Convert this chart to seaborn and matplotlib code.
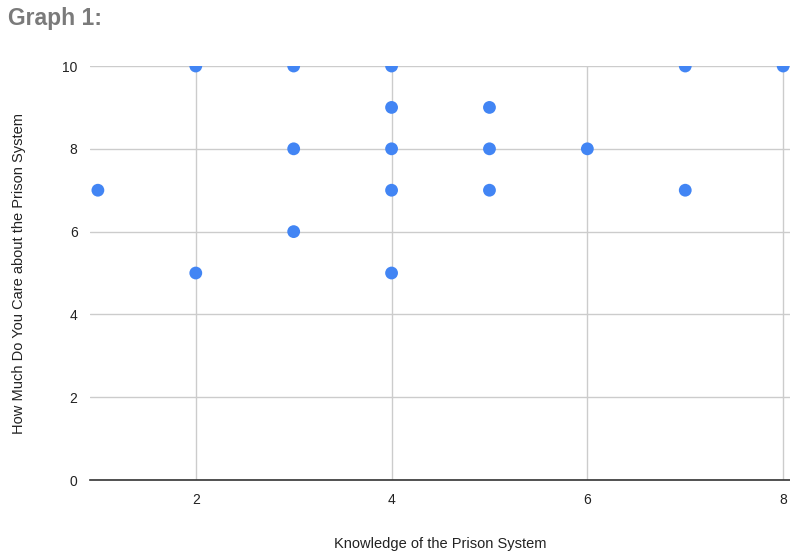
import numpy as np
import pandas as pd
import matplotlib
matplotlib.use("Agg")
import matplotlib.pyplot as plt
import seaborn as sns

# Dados
knowledge = [1, 2, 2, 3, 3, 3, 4, 4, 4, 4, 4, 5, 5, 5, 6, 7, 7, 8]
care = [7, 10, 5, 10, 8, 6, 10, 9, 8, 7, 5, 9, 8, 7, 8, 10, 7, 10]
x_ticks = [2, 4, 6, 8]
y_ticks = [0, 2, 4, 6, 8, 10]

df = pd.DataFrame({"Knowledge of the Prison System": knowledge,
                   "How Much Do You Care about the Prison System": care})

sns.set_style("white")
plt.rcParams['font.family'] = ['Liberation Sans', 'DejaVu Sans']

fig = plt.figure(figsize=(7.9, 5.52), dpi=100)
ax = fig.add_axes([0.114, 0.1304, 0.886, 0.75])

sns.scatterplot(data=df, x="Knowledge of the Prison System",
                y="How Much Do You Care about the Prison System",
                ax=ax, color="#4285F4", s=85, edgecolor="none", zorder=3)
# pontos cortados na borda, como no original
for c in ax.collections:
    c.set_clip_on(True)
    c.set_clip_path(ax.patch)

ax.set_xlim(0.92, 8.07)
ax.set_ylim(0, 10)
ax.set_xticks(x_ticks)
ax.set_yticks(y_ticks)
ax.grid(True, color="#cccccc", linewidth=1)
ax.set_axisbelow(True)
for s in ["top", "right", "left"]:
    ax.spines[s].set_visible(False)
ax.spines["bottom"].set_color("#333333")
ax.spines["bottom"].set_linewidth(1.2)
ax.tick_params(length=0, labelsize=10, labelcolor="#222222", pad=9)

ax.set_xlabel("Knowledge of the Prison System", fontsize=10.5, color="#222222", labelpad=22)
ax.set_ylabel("How Much Do You Care about the Prison System", fontsize=10.5, color="#222222", labelpad=26)

fig.text(0.01, 0.967, "Graph 1:", fontsize=16.5, fontweight="bold", color="#7a7a7a", va="center")

fig.savefig("out.png", dpi=100)
